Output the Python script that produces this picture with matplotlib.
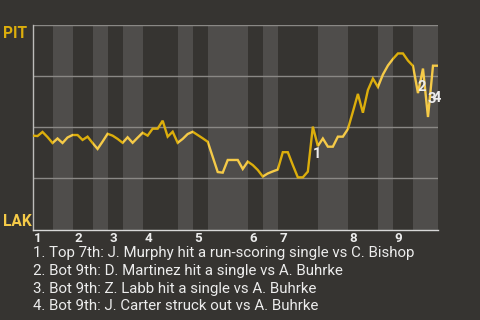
import matplotlib
matplotlib.use("Agg")
import matplotlib.pyplot as plt
import numpy as np

plt.rcParams['font.family'] = ['Roboto', 'DejaVu Sans']

# ---- data ----
# win probability (PIT) after each plate appearance (pixel y -> value)
wp_pixels = [135.7, 136, 132, 137, 143, 138.5, 143, 137.5, 135, 135,
             140, 136.7, 143, 149, 141.5, 133.7, 135.7, 139, 142.7, 137.3,
             142.7, 137.7, 132.7, 135.7, 128.7, 128.7, 120.7, 136.7, 131.7, 142.7,
             139, 134, 131.7, 135, 138.3, 141.7, 157, 172, 172.7, 160,
             160, 160, 169, 161.7, 165, 170, 176.5, 173.5, 171.5, 169.5,
             152.3, 152.3, 165, 177.3, 177.3, 171.7, 126.7, 146, 138.5, 146.7,
             146.7, 136.7, 136.7, 129, 111.7, 94, 112.7, 90, 78.5, 87,
             74.5, 65.5, 59, 53.5, 53.5, 60.5, 66, 93, 68.5, 117,
             65.7, 65.7]
win_prob = [round((229.5 - p) / 204.5, 3) for p in wp_pixels]
pa_index = list(range(len(win_prob)))

# half-inning boundaries (in plate appearances)
half_inning_bounds = [0, 4, 8, 12, 15, 18, 22, 29, 32, 35, 43, 46, 49, 57, 63, 69, 72, 76, 81]
inning_labels = ['1', '2', '3', '4', '5', '6', '7', '8', '9']

# key events
event_ids = ['1', '2', '3', '4']
event_pa = [56, 77, 79, 80]
event_label_wp = [0.368, 0.698, 0.638, 0.643]
event_texts = [
    "1. Top 7th: J. Murphy hit a run-scoring single vs C. Bishop",
    "2. Bot 9th: D. Martinez hit a single vs A. Buhrke",
    "3. Bot 9th: Z. Labb hit a single vs A. Buhrke",
    "4. Bot 9th: J. Carter struck out vs A. Buhrke",
]
teams = ['PIT', 'LAK']

# ---- style ----
BG = '#363431'
BAND_LIGHT = '#4f4d4b'
GRID = '#8a8885'
COL_TOP = '#dcae0c'
COL_BOT = '#f5ca48'
TXT = '#ececec'

W, H = 480, 320
fig = plt.figure(figsize=(W / 100, H / 100), dpi=100, facecolor=BG)
ax_l, ax_r, ax_t, ax_b = 32.5, 438, 25, 229.5
ax = fig.add_axes([ax_l / W, 1 - ax_b / H, (ax_r - ax_l) / W, (ax_b - ax_t) / H])
ax.set_facecolor(BG)
ax.set_xlim(half_inning_bounds[0], half_inning_bounds[-1])
ax.set_ylim(0, 1)

for s in ['top', 'right']:
    ax.spines[s].set_visible(False)
ax.spines['left'].set_color('#bdbcba')
ax.spines['left'].set_linewidth(1.0)
ax.spines['bottom'].set_color('#d8d8d8')
ax.spines['bottom'].set_linewidth(1.0)
ax.set_xticks([])
ax.set_yticks([])

for g in [0.25, 0.5, 0.75, 1.0]:
    ax.axhline(g, color=GRID, lw=1.0, zorder=1)

for k in range(len(half_inning_bounds) - 1):
    x0, x1 = half_inning_bounds[k], half_inning_bounds[k + 1]
    is_top = (k % 2 == 0)
    band = ax.axvspan(x0, x1, color=BG if is_top else BAND_LIGHT, lw=0, zorder=0)
    ln, = ax.plot(pa_index, win_prob, color=COL_TOP if is_top else COL_BOT,
                  lw=1.7, zorder=3, solid_joinstyle='miter')
    ln.set_clip_path(band)

# inning labels at start of each top half
for i, lab in enumerate(inning_labels):
    x0 = half_inning_bounds[2 * i]
    ax.annotate(lab, xy=(x0, 0), xycoords='data', xytext=(1.5, -2.5),
                textcoords='offset pixels', ha='left', va='top',
                fontsize=9.6, fontweight='bold', color=TXT)

# event markers
for eid, epa, ey in zip(event_ids, event_pa, event_label_wp):
    ax.annotate(eid, xy=(epa, ey), xycoords='data', xytext=(0, 0),
                textcoords='offset pixels', ha='left', va='center',
                fontsize=10.5, fontweight='bold', color=TXT, zorder=5)

# team labels
fig.text(3 / W, 1 - 25.5 / H, teams[0], ha='left', va='top', fontsize=11.2,
         fontweight='bold', color=COL_TOP)
fig.text(3 / W, 1 - 225.5 / H, teams[1], ha='left', va='baseline', fontsize=11.2,
         fontweight='bold', color=COL_BOT)

# event descriptions
y0, dy = 253.3, 17.7
for i, t in enumerate(event_texts):
    fig.text(33 / W, 1 - (y0 + i * dy) / H, t, ha='left', va='center',
             fontsize=10.8, color=TXT)

fig.savefig('out.png', dpi=100, facecolor=BG)
